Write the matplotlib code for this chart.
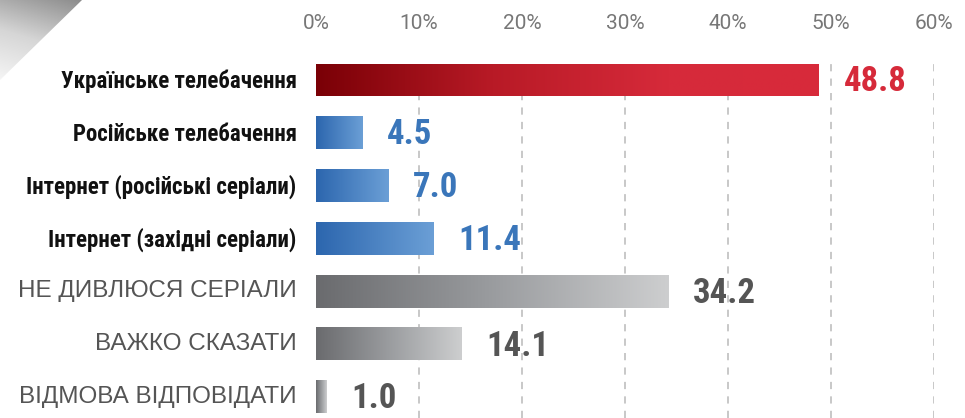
import numpy as np
import matplotlib
matplotlib.use("Agg")
import matplotlib.pyplot as plt
from matplotlib import font_manager
from matplotlib.colors import LinearSegmentedColormap
from matplotlib.patches import Polygon

categories = ["Українське телебачення", "Російське телебачення",
              "Інтернет (російські серіали)", "Інтернет (західні серіали)",
              "НЕ ДИВЛЮСЯ СЕРІАЛИ", "ВАЖКО СКАЗАТИ", "ВІДМОВА ВІДПОВІДАТИ"]
values = [48.8, 4.5, 7.0, 11.4, 34.2, 14.1, 1.0]
groups = ["red", "blue", "blue", "blue", "gray", "gray", "gray"]
xticks = [0, 10, 20, 30, 40, 50, 60]

# condensed face if there is one, else plain Liberation Sans
names = set(f.name for f in font_manager.fontManager.ttflist)
narrow = None
for n in ["Liberation Sans Narrow", "Roboto Condensed", "DejaVu Sans Condensed", "Open Sans Condensed"]:
    if n in names:
        narrow = n
        break
if narrow is None:
    narrow = "Liberation Sans"
    lab_size, val_size = 13, 21
else:
    lab_size, val_size = 16.5, 25

cmaps = {
    "red": LinearSegmentedColormap.from_list("r", [(0, "#7a0006"), (0.35, "#b81a26"), (0.7, "#d62a3a"), (1, "#d82a3b")]),
    "blue": LinearSegmentedColormap.from_list("b", ["#2c66ae", "#6b9fd6"]),
    "gray": LinearSegmentedColormap.from_list("g", ["#6a6b6e", "#9a9c9f", "#cdcecf"]),
}
text_col = {"red": "#d62a3a", "blue": "#3a76ba", "gray": "#555555"}

W, H = 965, 418
fig = plt.figure(figsize=(W / 100, H / 100), dpi=100)
x0, x60 = 316, 934
top = 64
ax = fig.add_axes([x0 / W, 0, (x60 - x0) / W, 1 - top / H])

for s in ax.spines.values():
    s.set_visible(False)
ax.set_yticks([])
ax.xaxis.tick_top()
ax.set_xticks(xticks)
ax.set_xticklabels([f"{t}%" for t in xticks], fontsize=15, color="#777777", family="Roboto")
ax.tick_params(axis="x", length=0, pad=22)
for t in xticks[1:]:
    ax.axvline(t, color="#c4c4c4", lw=1.3, ls=(0, (4, 4)), zorder=0)
ax.axvline(-0.3, color="#a9aaad", lw=3, zorder=3)

bh = 0.62
grad = np.linspace(0, 1, 256).reshape(1, -1)
for i, (v, g) in enumerate(zip(values, groups)):
    ax.imshow(grad, cmap=cmaps[g], extent=(0, v, i + bh / 2, i - bh / 2),
              aspect="auto", zorder=2, interpolation="bilinear")
    ax.annotate(f"{v:.1f}", xy=(v, i), xytext=(18, -1.5), textcoords="offset points",
                ha="left", va="center", fontsize=val_size, fontweight="bold",
                color=text_col[g], family=narrow)
    if g == "gray":
        ax.annotate(categories[i], xy=(0, i), xytext=(-14, 0), textcoords="offset points",
                    ha="right", va="center", fontsize=17.5, color="#555555",
                    family="Liberation Sans", annotation_clip=False)
    else:
        ax.annotate(categories[i], xy=(0, i), xytext=(-14, -1), textcoords="offset points",
                    ha="right", va="center", fontsize=lab_size, fontweight="bold", color="#111111",
                    family=narrow, annotation_clip=False)
ax.set_xlim(0, 60)
ax.set_ylim(6.4, -0.3)

# decorative corner
ov = fig.add_axes([0, 0, 1, 1], zorder=-1)
ov.axis("off")
yy, xx = np.mgrid[0:84, 0:84]
shade = (yy - xx * 0.3) / 84.0
corner = ov.imshow(shade, cmap=LinearSegmentedColormap.from_list("c", ["#8c8c8c", "#d6d6d6", "#f7f7f7"]),
                   extent=(0, 84, 84, 0), zorder=1)
tri = Polygon([(0, 0), (82, 0), (0, 80)], closed=True, transform=ov.transData)
corner.set_clip_path(tri)
ov.set_xlim(0, W)
ov.set_ylim(H, 0)

fig.savefig("out.png", dpi=100)
